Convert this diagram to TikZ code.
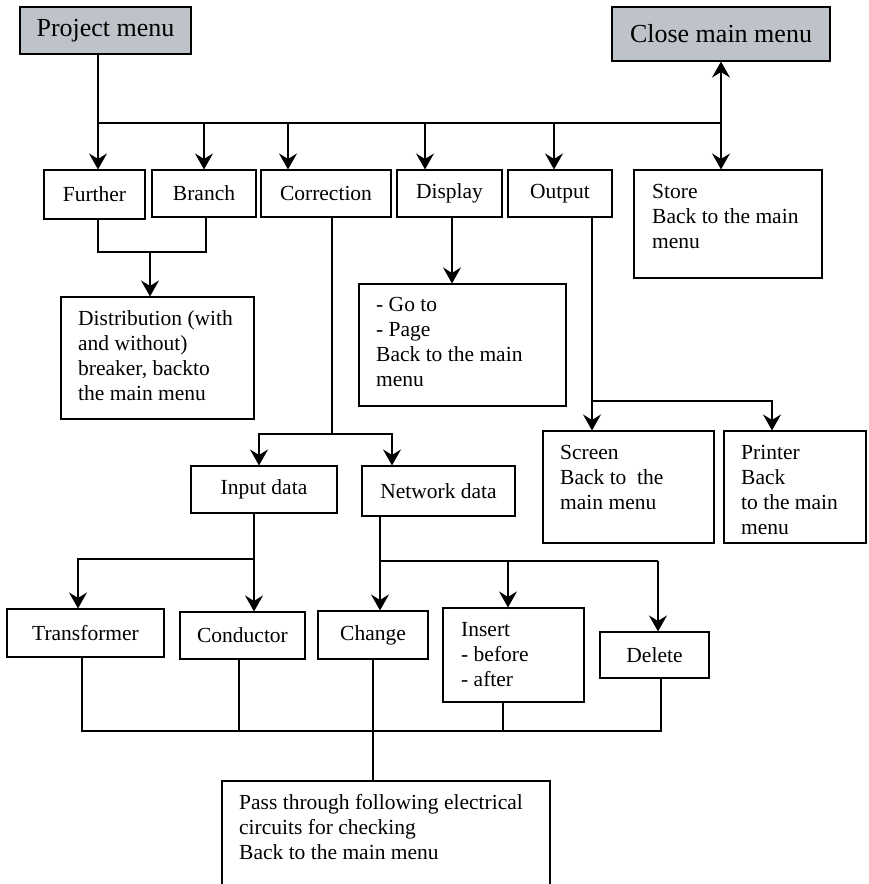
\documentclass[tikz,border=0pt]{standalone}
\usepackage{fontspec}
\setmainfont{Liberation Serif}
\usetikzlibrary{positioning,arrows.meta}
\definecolor{menugray}{RGB}{190,195,201}

\begin{document}
\begin{tikzpicture}[
    x=1pt, y=-1pt,
    box/.style={draw, line width=1.1pt, inner sep=0pt, font=\fontsize{21.5}{25}\selectfont},
    head/.style={box, fill=menugray, font=\fontsize{26}{30}\selectfont},
    txt/.style={align=left, inner sep=0pt, anchor=north west, font=\fontsize{21.5}{25}\selectfont},
    arrow/.style={-{Stealth[length=16pt, width=18pt, inset=5.5pt]}, line width=1.1pt},
    line/.style={line width=1.1pt}
]
\useasboundingbox (0,0) rectangle (869,884);

% menu heads
\node[head, minimum width=171pt, minimum height=47pt] (proj) at (105.5,30.5) {Project menu};
\node[head, minimum width=218pt, minimum height=54pt] (close) at (721,34) {Close main menu};

% first row
\node[box, minimum width=101pt, minimum height=49pt] (further) at (94.5,194.5) {Further};
\node[box, minimum width=104pt, minimum height=47pt] (branch) at (204,193.5) {Branch};
\node[box, minimum width=130pt, minimum height=47pt] (corr) at (326,193.5) {Correction};
\node[box, minimum width=105pt, minimum height=47pt] (disp) at (449.5,193.5) {Display};
\node[box, minimum width=104pt, minimum height=47pt] (outp) at (560,193.5) {Output};
\node[box, minimum width=188pt, minimum height=108pt] (store) at (728,224) {};
\node[txt] (storetxt) at (652,184) {Store\\Back to the main\\menu};

% second level
\node[box, minimum width=193pt, minimum height=122pt] (distr) at (157.5,358) {};
\node[txt] (distrtxt) at (78,310) {Distribution (with\\and without)\\breaker, backto\\the main menu};
\node[box, minimum width=207pt, minimum height=122pt] (goto) at (462.5,345) {};
\node[txt] (gototxt) at (376,297) {- Go to\\- Page\\Back to the main\\menu};
\node[box, minimum width=171pt, minimum height=112pt] (screen) at (628.5,487) {};
\node[txt] (screentxt) at (560,445) {Screen\\Back to\ \ the\\main menu};
\node[box, minimum width=142pt, minimum height=112pt] (printer) at (795,487) {};
\node[txt] (printertxt) at (741,445) {Printer\\Back\\to the main\\menu};
\node[box, minimum width=146pt, minimum height=47pt] (input) at (264,489.5) {Input data};
\node[box, minimum width=153pt, minimum height=50pt] (network) at (438.5,491) {Network data};

% data level
\node[box, minimum width=157pt, minimum height=48pt] (transf) at (85.5,633) {Transformer};
\node[box, minimum width=125pt, minimum height=47pt] (cond) at (242.5,635.5) {Conductor};
\node[box, minimum width=110pt, minimum height=48pt] (change) at (373,635) {Change};
\node[box, minimum width=141pt, minimum height=94pt] (insert) at (513.5,655) {};
\node[txt] (inserttxt) at (461,622) {Insert\\- before\\- after};
\node[box, minimum width=109pt, minimum height=46pt] (delete) at (654.5,655) {Delete};

% check box, cut by the lower edge
\node[box, minimum width=328pt, minimum height=159pt] (pass) at (386,860.5) {};
\node[txt] (passtxt) at (239,794) {Pass through following electrical\\circuits for checking\\Back to the main menu};

% main bus
\coordinate (bus) at (98,123);
\coordinate (busend) at (721,123);
\coordinate (toCorr) at (288,123);
\coordinate (toDisp) at (425,123);
\coordinate (toOutp) at (554,123);
\draw[line] (proj.south -| bus) -- (bus) -- (busend);
\draw[arrow] (bus) -- (bus |- further.north);
\draw[arrow] (bus -| branch.north) -- (branch.north);
\draw[arrow] (toCorr) -- (toCorr |- corr.north);
\draw[arrow] (toDisp) -- (toDisp |- disp.north);
\draw[arrow] (toOutp) -- (toOutp |- outp.north);
\draw[arrow] (busend) -- (close.south);
\draw[arrow] (busend) -- (busend |- store.north);

% further / branch
\coordinate (fbL) at (98,252);
\coordinate (fbR) at (206,252);
\coordinate (fbM) at (150,252);
\draw[line] (further.south -| fbL) -- (fbL) -- (fbR) -- (branch.south -| fbR);
\draw[arrow] (fbM) -- (fbM |- distr.north);

% display
\coordinate (dispX) at (452,250);
\draw[arrow] (disp.south -| dispX) -- (dispX |- goto.north);

% correction
\coordinate (corrJ) at (332,434);
\coordinate (corrL) at (259,434);
\coordinate (corrR) at (392,434);
\draw[line] (corr.south -| corrJ) -- (corrJ);
\draw[arrow] (corrJ) -| (corrL |- input.north);
\draw[arrow] (corrJ) -| (corrR |- network.north);

% output
\coordinate (outJ) at (592,401);
\coordinate (outR) at (772,401);
\draw[arrow] (outp.south -| outJ) -- (outJ |- screen.north);
\draw[arrow] (outJ) -| (outR |- printer.north);

% input data
\coordinate (inJ) at (254,559);
\coordinate (inL) at (78,559);
\draw[arrow] (input.south -| inJ) -- (inJ |- cond.north);
\draw[arrow] (inJ) -| (inL |- transf.north);

% network data
\coordinate (netJ) at (380,561);
\coordinate (netM) at (508,561);
\coordinate (netR) at (658,561);
\draw[arrow] (network.south -| netJ) -- (netJ |- change.north);
\draw[line] (netJ) -- (netR);
\draw[arrow] (netM) -- (netM |- insert.north);
\draw[arrow] (netR) -- (netR |- delete.north);

% collecting line
\coordinate (jT) at (82,731);
\coordinate (jC) at (239,731);
\coordinate (jCh) at (373,731);
\coordinate (jI) at (503,731);
\coordinate (jD) at (661,731);
\draw[line] (transf.south -| jT) -- (jT) -- (jD) -- (delete.south -| jD);
\draw[line] (cond.south -| jC) -- (jC);
\draw[line] (insert.south -| jI) -- (jI);
\draw[line] (change.south -| jCh) -- (pass.north -| jCh);
\end{tikzpicture}
\end{document}
